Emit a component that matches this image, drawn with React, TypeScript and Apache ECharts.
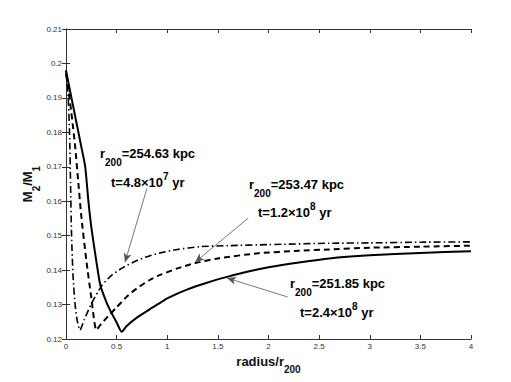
import React, { useEffect, useRef } from "react";
import * as echarts from "echarts";

// Curve t = 2.4e8 yr (solid)
const xSolid = [0, 0.05, 0.1, 0.15, 0.19, 0.22, 0.25, 0.3, 0.34, 0.4, 0.44, 0.5, 0.55, 0.6, 0.7, 0.83, 0.93, 1.0, 1.2, 1.4, 1.6, 1.8, 2.0, 2.3, 2.6, 3.0, 3.5, 4.0];
const ySolid = [0.198, 0.1906, 0.1833, 0.176, 0.170, 0.1604, 0.1525, 0.1425, 0.1355, 0.1306, 0.1281, 0.1248, 0.1221, 0.1238, 0.1262, 0.1287, 0.1305, 0.1318, 0.1344, 0.1364, 0.1381, 0.1396, 0.1408, 0.1422, 0.1434, 0.1443, 0.1450, 0.1455];

// Curve t = 1.2e8 yr (dashed)
const xDashed = [0, 0.03, 0.06, 0.09, 0.12, 0.15, 0.2, 0.25, 0.3, 0.35, 0.435, 0.5, 0.6, 0.7, 0.83, 0.93, 1.1, 1.27, 1.5, 1.9, 2.3, 2.6, 3.0, 3.5, 4.0];
const yDashed = [0.197, 0.191, 0.184, 0.176, 0.166, 0.156, 0.143, 0.132, 0.1226, 0.1245, 0.1272, 0.1292, 0.1323, 0.1347, 0.1372, 0.1386, 0.1405, 0.1420, 0.1434, 0.1449, 0.1456, 0.1460, 0.1465, 0.1468, 0.1471];

// Curve t = 4.8e7 yr (dash-dot)
const xDashDot = [0, 0.02, 0.035, 0.045, 0.055, 0.07, 0.09, 0.11, 0.138, 0.18, 0.254, 0.353, 0.45, 0.566, 0.7, 0.83, 0.93, 1.1, 1.32, 1.6, 2.0, 2.6, 3.0, 3.5, 4.0];
const yDashDot = [0.198, 0.191, 0.18, 0.165, 0.15, 0.138, 0.130, 0.1255, 0.1226, 0.1256, 0.1304, 0.1355, 0.1385, 0.1408, 0.1428, 0.1442, 0.1450, 0.1460, 0.1468, 0.1471, 0.1474, 0.1478, 0.1479, 0.1481, 0.1482];

// Annotation arrows (data coords): [fromX, fromY, toX, toY]
const arrows = [
  [0.80, 0.1638, 0.583, 0.1423],
  [1.80, 0.1551, 1.275, 0.1423],
  [2.19, 0.1322, 1.59, 0.1377],
];

const annR = ["254.63", "253.47", "251.85"];
const annT = [["4.8", "7"], ["1.2", "8"], ["2.4", "8"]];

const zip = (xs: number[], ys: number[]) => xs.map((x, i) => [x, ys[i]]);

const FONT = "Liberation Sans, Arial, Helvetica, sans-serif";

export default function App() {
  const ref = useRef<HTMLDivElement>(null);
  useEffect(() => {
    if (!ref.current) return;
    const chart = echarts.init(ref.current, null, { renderer: "svg" });
    const axisLine = { show: true, lineStyle: { color: "#333", width: 1 } };
    const tick = { show: true, inside: true, length: 4, lineStyle: { color: "#333" } };
    const richSub = {
      a: { fontSize: 13, fontWeight: "bold" as const, fontFamily: FONT, color: "#111", lineHeight: 20, verticalAlign: "top" as const },
      s: { fontSize: 10, fontWeight: "bold" as const, fontFamily: FONT, color: "#111", lineHeight: 10, verticalAlign: "bottom" as const },
    };
    const richSup = {
      a: { fontSize: 13, fontWeight: "bold" as const, fontFamily: FONT, color: "#111", lineHeight: 18, verticalAlign: "bottom" as const },
      p: { fontSize: 10, fontWeight: "bold" as const, fontFamily: FONT, color: "#111", lineHeight: 10, verticalAlign: "top" as const },
    };
    const annPos = [
      [100, 157, 111, 180],
      [249, 188, 258, 210],
      [290, 287, 300, 310],
    ];
    const graphics: any[] = [];
    annPos.forEach((p, i) => {
      graphics.push({
        type: "text",
        left: p[0],
        top: p[1] - 10,
        style: { text: `{a|r}{s|200}{a|=${annR[i]} kpc}`, rich: richSub },
      });
      graphics.push({
        type: "text",
        left: p[2],
        top: p[3] - 9,
        style: { text: `{a|t=${annT[i][0]}×10}{p|${annT[i][1]}}{a| yr}`, rich: richSup },
      });
    });

    chart.setOption({
      animation: false,
      backgroundColor: "#fff",
      grid: { left: 66, top: 29, right: 40, bottom: 43 },
      xAxis: [
        {
          type: "value", min: 0, max: 4, interval: 0.5,
          axisLine, axisTick: tick, splitLine: { show: false },
          axisLabel: { fontSize: 8, color: "#333", fontFamily: FONT, margin: 3 },
          name: "{a|radius/r}{s|200}",
          nameLocation: "middle", nameGap: 10,
          nameTextStyle: {
            rich: {
              a: { fontSize: 13, fontWeight: "bold", fontFamily: FONT, color: "#111", lineHeight: 20, verticalAlign: "top" },
              s: { fontSize: 10, fontWeight: "bold", fontFamily: FONT, color: "#111", lineHeight: 10, verticalAlign: "bottom" },
            },
          },
        },
        {
          type: "value", min: 0, max: 4, interval: 0.5, position: "top",
          axisLine, axisTick: tick, axisLabel: { show: false }, splitLine: { show: false },
        },
      ],
      yAxis: [
        {
          type: "value", min: 0.12, max: 0.21, interval: 0.01,
          axisLine, axisTick: tick, splitLine: { show: false },
          axisLabel: { fontSize: 8, color: "#333", fontFamily: FONT, margin: 4 },
          name: "{a|M}{s|2}{a|/M}{s|1}",
          nameLocation: "middle", nameGap: 25, nameRotate: 90,
          nameMoveOverlap: false,
          nameTextStyle: {
            rich: {
              a: { fontSize: 13, fontWeight: "bold", fontFamily: FONT, color: "#111", lineHeight: 20, verticalAlign: "top" },
              s: { fontSize: 10, fontWeight: "bold", fontFamily: FONT, color: "#111", lineHeight: 10, verticalAlign: "bottom" },
            },
          },
        },
        {
          type: "value", min: 0.12, max: 0.21, interval: 0.01, position: "right",
          axisLine, axisTick: tick, axisLabel: { show: false }, splitLine: { show: false },
        },
      ],
      series: [
        {
          type: "line", name: "t=2.4e8", data: zip(xSolid, ySolid), showSymbol: false, smooth: 0.2,
          lineStyle: { color: "#000", width: 2 },
          markLine: {
            silent: true,
            symbol: ["none", "arrow"],
            symbolSize: [6, 9],
            label: { show: false },
            lineStyle: { color: "#555", width: 0.8, type: "solid" },
            data: arrows.map((a) => [{ coord: [a[0], a[1]] }, { coord: [a[2], a[3]] }]),
          },
        },
        {
          type: "line", name: "t=1.2e8", data: zip(xDashed, yDashed), showSymbol: false, smooth: 0.2,
          lineStyle: { color: "#000", width: 2, type: [6, 4] },
        },
        {
          type: "line", name: "t=4.8e7", data: zip(xDashDot, yDashDot), showSymbol: false, smooth: 0.2,
          lineStyle: { color: "#000", width: 1.6, type: [7, 3, 1.5, 3] },
        },
      ],
      graphic: graphics,
    });
    return () => chart.dispose();
  }, []);
  return <div ref={ref} style={{ width: 511, height: 382, position: "absolute", left: 0, top: 0 }} />;
}
